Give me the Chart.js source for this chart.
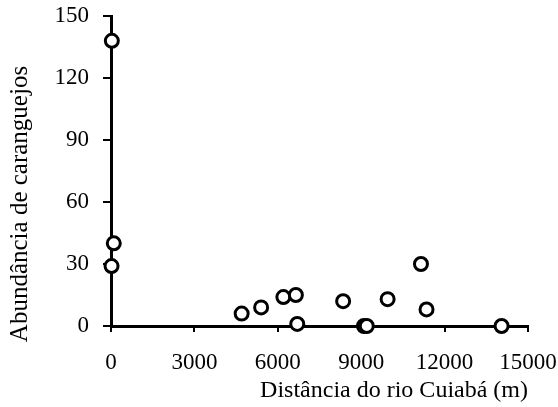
<!DOCTYPE html>
<html>
<head>
<meta charset="utf-8">
<script src="https://cdn.jsdelivr.net/npm/chart.js@4"></script>
<style>
  html, body { margin: 0; padding: 0; background: #fff; }
  #wrap { width: 558px; height: 407px; }
</style>
</head>
<body>
<div id="wrap"><canvas id="crabChart"></canvas></div>
<script>
// distance from the Cuiabá river (m) and crab counts
const distancia = [30, 100, 20, 4700, 5400, 6200, 6650, 6700, 8350, 9100, 9200, 9950, 11150, 11350, 14050];
const abundancia = [138, 40, 29, 6, 9, 14, 15, 1, 12, 0, 0, 13, 30, 8, 0];
const xTicks = [0, 3000, 6000, 9000, 12000, 15000];
const yTicks = [0, 30, 60, 90, 120, 150];
const tituloY = 'Abundância de caranguejos';

const fonte = "'Liberation Serif', 'Times New Roman', serif";

const pontos = distancia.map((d, i) => ({ x: d, y: abundancia[i] }));

// y title sits a bit below the middle of the axis in the original, so draw it by hand
const yTitlePlugin = {
  id: 'yTitle',
  afterDraw(chart) {
    const ctx = chart.ctx;
    ctx.save();
    ctx.translate(20, 204);
    ctx.rotate(-Math.PI / 2);
    ctx.font = '25px ' + fonte;
    ctx.fillStyle = '#000';
    ctx.textAlign = 'center';
    ctx.textBaseline = 'middle';
    ctx.fillText(tituloY, 0, 0);
    ctx.restore();
  }
};

new Chart(document.getElementById("crabChart"), {
  type: 'scatter',
  data: {
    datasets: [{
      data: pontos,
      pointRadius: 6.5,
      pointHoverRadius: 6.5,
      pointBorderWidth: 3,
      pointBackgroundColor: '#fff',
      pointBorderColor: '#000',
      clip: false
    }]
  },
  plugins: [yTitlePlugin],
  options: {
    responsive: true,
    maintainAspectRatio: false,
    animation: false,
    layout: { padding: { top: 16, right: 30, bottom: 0, left: 0 } },
    plugins: { legend: { display: false }, tooltip: { enabled: false } },
    scales: {
      x: {
        type: 'linear',
        min: 0, max: 15000,
        afterBuildTicks: s => { s.ticks = xTicks.map(v => ({ value: v })); },
        afterFit: s => { s.height = 81; s.paddingRight = 0; s.paddingLeft = 0; },
        grid: { drawOnChartArea: false, drawTicks: true, tickLength: 6, color: '#000', lineWidth: 2 },
        border: { color: '#000', width: 3 },
        ticks: { color: '#000', font: { family: fonte, size: 23 }, padding: 17, maxRotation: 0, callback: v => String(v) },
        title: { display: true, align: 'end', text: 'Distância do rio Cuiabá (m)', color: '#000', font: { family: fonte, size: 24 }, padding: { top: 0, bottom: 2 } }
      },
      y: {
        type: 'linear',
        min: 0, max: 150,
        afterBuildTicks: s => { s.ticks = yTicks.map(v => ({ value: v })); },
        afterFit: s => { s.width = 111; s.paddingTop = 0; s.paddingBottom = 0; },
        grid: { drawOnChartArea: false, drawTicks: true, tickLength: 8, color: '#000', lineWidth: 2 },
        border: { color: '#000', width: 3 },
        ticks: { color: '#000', font: { family: fonte, size: 23 }, padding: 14, callback: v => String(v) },
        title: { display: false }
      }
    }
  }
});
</script>
</body>
</html>
